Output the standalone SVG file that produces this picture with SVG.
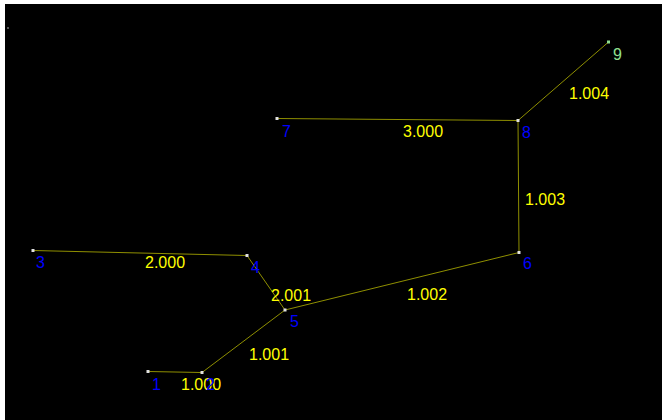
<svg xmlns="http://www.w3.org/2000/svg" width="662" height="420" viewBox="0 0 662 420">
<style>
.e{stroke:#8f8f00;stroke-width:1;fill:none}
.n{fill:#e0e0e0}
.t{font-family:"Liberation Sans",Arial,sans-serif;font-size:16px}
.b{fill:#0000ff}
.y{fill:#ffff00}
.g{fill:#90e090}
</style>
<rect x="0" y="0" width="662" height="420" fill="#ffffff"/>
<rect x="5" y="4" width="657" height="416" fill="#000000"/>
<rect x="7" y="27" width="2" height="2" fill="#555555"/>
<g id="connectors">
<line class="e" x1="148" y1="371.5" x2="202" y2="372.5"/>
<line class="e" x1="202" y1="372.5" x2="285" y2="310"/>
<line class="e" x1="33" y1="250.5" x2="247" y2="255.5"/>
<line class="e" x1="247" y1="255.5" x2="285" y2="310"/>
<line class="e" x1="285" y1="310" x2="519" y2="252.5"/>
<line class="e" x1="519" y1="252.5" x2="518" y2="120.5"/>
<line class="e" x1="277" y1="118.5" x2="518" y2="120.5"/>
<line class="e" x1="518" y1="120.5" x2="608.5" y2="42"/>
<text class="t y" x="181" y="390">1.000</text>
<text class="t y" x="249" y="360">1.001</text>
<text class="t y" x="145" y="268">2.000</text>
<text class="t y" x="271" y="301">2.001</text>
<text class="t y" x="407" y="300">1.002</text>
<text class="t y" x="525" y="205">1.003</text>
<text class="t y" x="403" y="137">3.000</text>
<text class="t y" x="569" y="99">1.004</text>
</g>
<g id="n1"><rect class="n" x="146.5" y="370" width="3" height="3"/><text class="t b" x="152" y="390">1</text></g>
<g id="n2"><rect class="n" x="200.5" y="371" width="3" height="3"/><text class="t b" x="206" y="390">2</text></g>
<g id="n3"><rect class="n" x="31.5" y="249" width="3" height="3"/><text class="t b" x="36" y="268">3</text></g>
<g id="n4"><rect class="n" x="245.5" y="254" width="3" height="3"/><text class="t b" x="251" y="273">4</text></g>
<g id="n5"><rect class="n" x="283.5" y="308.5" width="3" height="3"/><text class="t b" x="290" y="327">5</text></g>
<g id="n6"><rect class="n" x="517.5" y="251" width="3" height="3"/><text class="t b" x="523" y="269">6</text></g>
<g id="n7"><rect class="n" x="275.5" y="117" width="3" height="3"/><text class="t b" x="282" y="137">7</text></g>
<g id="n8"><rect class="n" x="516.5" y="119" width="3" height="3"/><text class="t b" x="522" y="138">8</text></g>
<g id="n9"><rect class="g" x="607" y="40.5" width="3" height="3"/><text class="t g" x="613" y="60">9</text></g>
</svg>
